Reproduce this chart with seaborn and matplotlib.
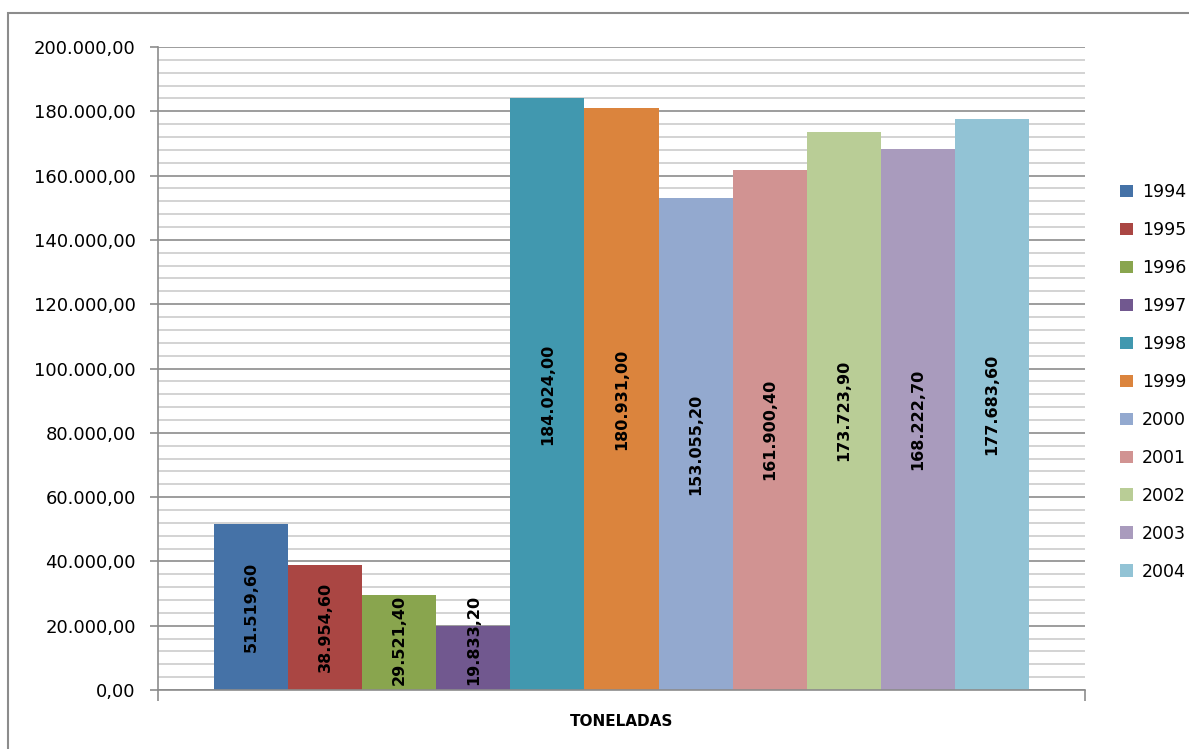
import pandas as pd
import matplotlib.pyplot as plt
import seaborn as sns
from matplotlib.ticker import FuncFormatter, MultipleLocator
from matplotlib.patches import Rectangle

# data
years = ['1994', '1995', '1996', '1997', '1998', '1999', '2000', '2001', '2002', '2003', '2004']
toneladas = [51519.6, 38954.6, 29521.4, 19833.2, 184024.0, 180931.0,
             153055.2, 161900.4, 173723.9, 168222.7, 177683.6]
colors = ['#4572A7', '#AA4643', '#89A54E', '#71588F', '#4198AF', '#DB843D',
          '#93A9CF', '#D19392', '#B9CD96', '#A99BBD', '#92C3D5']
category = 'TONELADAS'


def br_fmt(v, decimals=2):
    s = f"{v:,.{decimals}f}"
    return s.replace(',', 'X').replace('.', ',').replace('X', '.')


df = pd.DataFrame({'cat': [category] * len(years), 'year': years, 'val': toneladas})

sns.set_style('white')
plt.rcParams['font.family'] = ['DejaVu Sans']
plt.rcParams['text.color'] = 'black'
plt.rcParams['xtick.labelcolor'] = 'black'
plt.rcParams['ytick.labelcolor'] = 'black'

fig = plt.figure(figsize=(11.89, 7.49), dpi=100)
ax = fig.add_axes([0.1329, 0.0788, 0.9125 - 0.1329, 0.9372 - 0.0788])

sns.barplot(data=df, x='cat', y='val', hue='year', palette=colors,
            width=0.879, saturation=1, gap=0, ax=ax, linewidth=0, errorbar=None)

ax.set_xlim(-0.5, 0.5)
ax.set_ylim(0, 200000)
ax.yaxis.set_major_locator(MultipleLocator(20000))
ax.yaxis.set_minor_locator(MultipleLocator(4000))
ax.yaxis.set_major_formatter(FuncFormatter(lambda v, p: br_fmt(v)))
ax.grid(which='major', axis='y', color='#8c8c8c', linewidth=1.2)
ax.grid(which='minor', axis='y', color='#cccccc', linewidth=1.2)
ax.set_axisbelow(True)

for side in ['top', 'right']:
    ax.spines[side].set_visible(False)
for side in ['left', 'bottom']:
    ax.spines[side].set_color('#8c8c8c')
    ax.spines[side].set_linewidth(1.2)

ax.tick_params(axis='y', which='major', left=True, length=6, width=1.2,
               color='#8c8c8c', labelsize=13, pad=10, labelcolor='black')
ax.tick_params(axis='y', which='minor', left=False)
ax.set_xticks([-0.5, 0.5], minor=True)
ax.tick_params(axis='x', which='minor', bottom=True, length=8, width=1.2, color='#8c8c8c')
ax.tick_params(axis='x', which='major', length=0, pad=17, labelcolor='black')
for t in ax.get_xticklabels():
    t.set_fontweight('bold')
    t.set_fontsize(11)
ax.set_xlabel('')
ax.set_ylabel('')

# value labels inside bars
for cont, v in zip(ax.containers, toneladas):
    bar = cont[0]
    xc = bar.get_x() + bar.get_width() / 2
    ax.text(xc, max(v / 2, 15500), br_fmt(v), rotation=90, ha='center', va='center',
            fontsize=11.5, fontweight='bold', color='black')

leg = ax.legend(loc='center left', bbox_to_anchor=(0.942, 0.49), bbox_transform=fig.transFigure,
                frameon=False, fontsize=12.5, handlelength=0.75, handleheight=0.75,
                handletextpad=0.5, labelspacing=1.15, borderpad=0, borderaxespad=0)
for t in leg.get_texts():
    t.set_color('black')

fig.patches.append(Rectangle((0.007, -0.05), 1.1, 0.9827 + 0.05, transform=fig.transFigure,
                             fill=False, edgecolor='#8c8c8c', linewidth=1.5))

fig.savefig('out.png', dpi=100)
